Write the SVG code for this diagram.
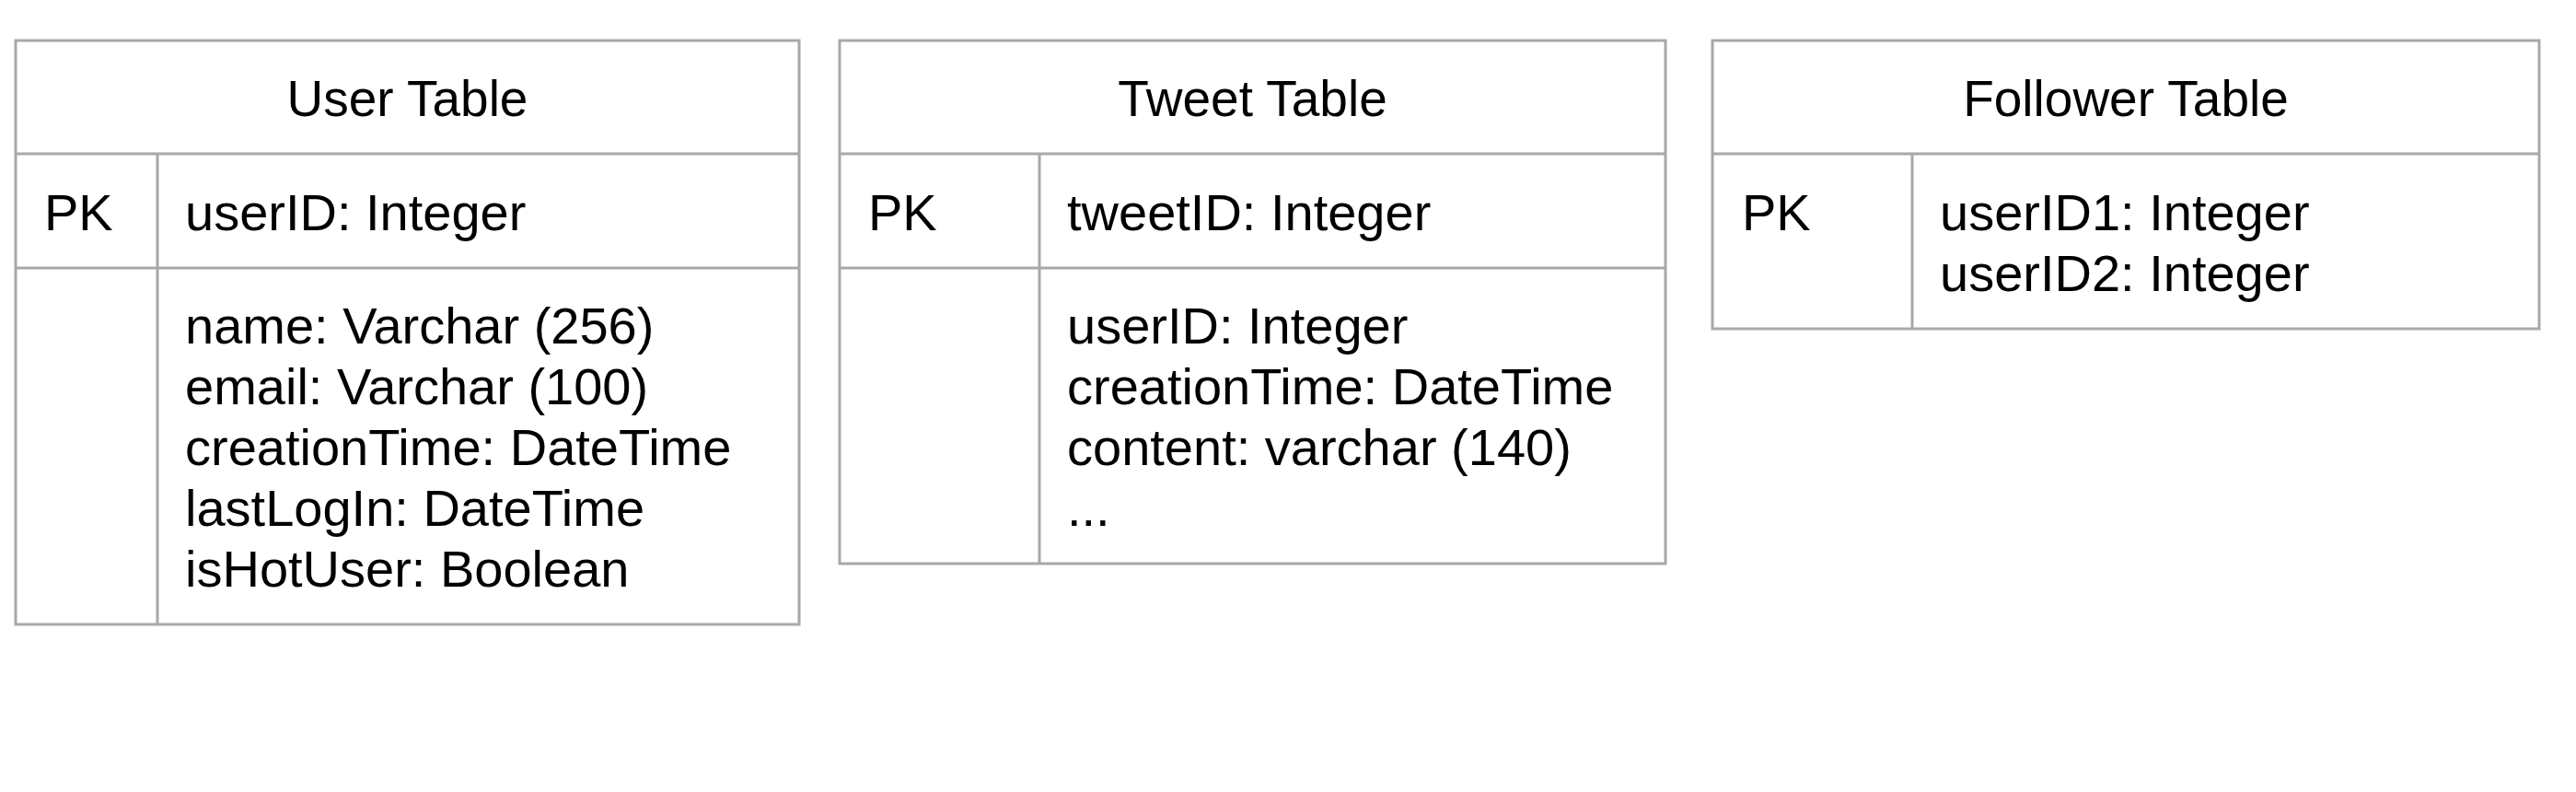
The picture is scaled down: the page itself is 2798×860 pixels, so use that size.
<svg xmlns="http://www.w3.org/2000/svg" width="2798" height="860" viewBox="0 0 2798 860">
<style>
.box{fill:#ffffff;stroke:#a8a8a8;stroke-width:3}
.ln{stroke:#a8a8a8;stroke-width:3;fill:none}
text{font-family:"Liberation Sans",Arial,sans-serif;font-size:56px;fill:#000000}
.title{text-anchor:middle;font-size:55px}
</style>
<rect x="0" y="0" width="2798" height="860" fill="#ffffff"/>
<g id="user-table">
<rect class="box" x="17" y="44" width="851" height="634"/>
<line class="ln" x1="17" y1="167" x2="868" y2="167"/>
<line class="ln" x1="17" y1="291" x2="868" y2="291"/>
<line class="ln" x1="171" y1="167" x2="171" y2="678"/>
<text class="title" x="442.5" y="126">User Table</text>
<text x="48" y="250">PK</text>
<text x="201" y="250">userID: Integer</text>
<text x="201" y="373">name: Varchar (256)</text>
<text x="201" y="439">email: Varchar (100)</text>
<text x="201" y="505">creationTime: DateTime</text>
<text x="201" y="571">lastLogIn: DateTime</text>
<text x="201" y="637">isHotUser: Boolean</text>
</g>
<g id="tweet-table">
<rect class="box" x="912" y="44" width="897" height="568"/>
<line class="ln" x1="912" y1="167" x2="1809" y2="167"/>
<line class="ln" x1="912" y1="291" x2="1809" y2="291"/>
<line class="ln" x1="1129" y1="167" x2="1129" y2="612"/>
<text class="title" x="1360.5" y="126">Tweet Table</text>
<text x="943" y="250">PK</text>
<text x="1159" y="250">tweetID: Integer</text>
<text x="1159" y="373">userID: Integer</text>
<text x="1159" y="439">creationTime: DateTime</text>
<text x="1159" y="505">content: varchar (140)</text>
<text x="1159" y="571">...</text>
</g>
<g id="follower-table">
<rect class="box" x="1860" y="44" width="898" height="313"/>
<line class="ln" x1="1860" y1="167" x2="2758" y2="167"/>
<line class="ln" x1="2077" y1="167" x2="2077" y2="357"/>
<text class="title" x="2309" y="126">Follower Table</text>
<text x="1892" y="250">PK</text>
<text x="2107" y="250">userID1: Integer</text>
<text x="2107" y="316">userID2: Integer</text>
</g>
<g id="connectors"></g>
</svg>
